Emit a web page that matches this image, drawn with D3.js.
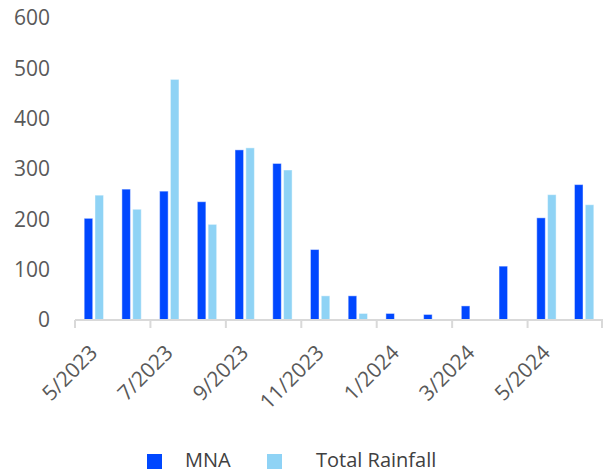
<!DOCTYPE html>
<html>
<head>
<meta charset="utf-8">
<script src="https://cdn.jsdelivr.net/npm/d3@7"></script>
<style>
  html, body { margin: 0; padding: 0; background: #fff; }
  svg { display: block; }
  text { font-family: "Open Sans", "Noto Sans", sans-serif; }
</style>
</head>
<body>
<svg id="chart" width="603" height="472"></svg>
<script>
// Monthly categories
const months = ["5/2023", "6/2023", "7/2023", "8/2023", "9/2023", "10/2023", "11/2023",
                "12/2023", "1/2024", "2/2024", "3/2024", "4/2024", "5/2024", "6/2024"];
// Series values
const mna = [202, 260, 256, 235, 338, 311, 140, 48, 13, 11, 28, 107, 203, 269];
const rainfall = [248, 220, 478, 190, 342, 298, 48, 13, 0, 0, 0, 0, 249, 229];
const seriesNames = ["MNA", "Total Rainfall"];
const seriesColors = ["#0047ff", "#8fd3f5"];
const yTicks = [0, 100, 200, 300, 400, 500, 600];

const svg = d3.select("#chart");
const plotLeft = 75, plotRight = 603, plotTop = 18, plotBottom = 320;

const x = d3.scaleBand().domain(months).range([plotLeft, plotRight]).paddingInner(0).paddingOuter(0);
const xs = d3.scaleBand().domain(seriesNames).range([0, x.bandwidth()]).paddingInner(0.21).paddingOuter(0.85);
const y = d3.scaleLinear().domain([0, 600]).range([plotBottom, plotTop]);

const rows = months.map((m, i) => ({ month: m, values: [mna[i], rainfall[i]] }));

// Bars
const groups = svg.append("g").selectAll("g").data(rows).join("g")
  .attr("transform", d => `translate(${x(d.month)},0)`);
groups.selectAll("rect")
  .data(d => d.values.map((v, j) => ({ name: seriesNames[j], value: v, color: seriesColors[j] })).filter(e => e.value > 0))
  .join("rect")
  .attr("x", d => xs(d.name))
  .attr("y", d => y(d.value))
  .attr("width", xs.bandwidth())
  .attr("height", d => y(0) - y(d.value))
  .attr("fill", d => d.color)
  .attr("stroke", "rgba(255,255,255,0.45)")
  .attr("stroke-width", 1);

// Y axis labels (no axis line)
const yAxis = svg.append("g")
  .attr("transform", `translate(50,0)`)
  .call(d3.axisLeft(y).tickValues(yTicks).tickSize(0).tickPadding(0));
yAxis.select(".domain").remove();
yAxis.selectAll("text")
  .attr("font-size", 21)
  .attr("font-family", "'Open Sans', sans-serif")
  .attr("fill", "#595959");

// X axis line with ticks every two months
const axisG = svg.append("g");
axisG.append("line")
  .attr("x1", plotLeft).attr("x2", plotRight)
  .attr("y1", plotBottom).attr("y2", plotBottom)
  .attr("stroke", "#d9d9d9").attr("stroke-width", 2);
const tickXs = months.filter((m, i) => i % 2 === 0).map(m => x(m)).concat([plotRight - 1]);
axisG.selectAll("line.tick").data(tickXs).join("line")
  .attr("class", "tick")
  .attr("x1", d => d).attr("x2", d => d)
  .attr("y1", plotBottom).attr("y2", plotBottom + 8)
  .attr("stroke", "#d9d9d9").attr("stroke-width", 2);

// Rotated month labels on alternate categories
axisG.selectAll("text").data(months.filter((m, i) => i % 2 === 0)).join("text")
  .attr("transform", d => `translate(${x(d) + x.bandwidth() / 2 + 5},${plotBottom + 34}) rotate(-45)`)
  .attr("text-anchor", "end")
  .attr("font-size", 21)
  .attr("fill", "#595959")
  .text(d => d);

// Legend
const legendItems = [
  { name: seriesNames[0], color: seriesColors[0], sx: 147, tx: 185 },
  { name: seriesNames[1], color: seriesColors[1], sx: 267, tx: 316 }
];
const legend = svg.append("g").selectAll("g").data(legendItems).join("g");
legend.append("rect")
  .attr("x", d => d.sx).attr("y", 454)
  .attr("width", 15).attr("height", 15)
  .attr("fill", d => d.color);
legend.append("text")
  .attr("x", d => d.tx).attr("y", 467)
  .attr("font-size", 20)
  .attr("fill", "#404040")
  .text(d => d.name);
</script>
</body>
</html>
